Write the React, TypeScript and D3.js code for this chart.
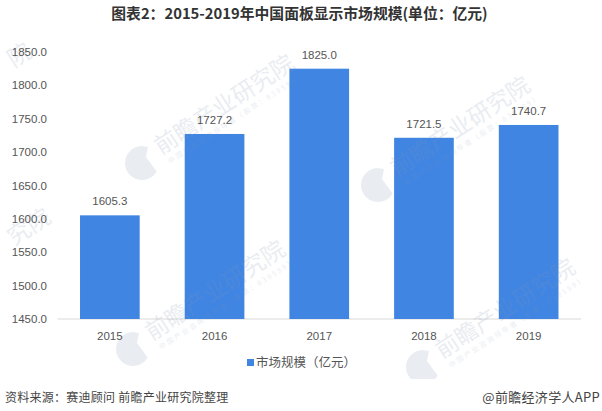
import React, { useRef, useEffect } from "react";
import * as d3 from "d3";

const years = ["2015", "2016", "2017", "2018", "2019"];
const marketSize = [1605.3, 1727.2, 1825.0, 1721.5, 1740.7];
const yTicks = [1450, 1500, 1550, 1600, 1650, 1700, 1750, 1800, 1850];

const titleText = "图表2：2015-2019年中国面板显示市场规模(单位：亿元)";
const legendText = "市场规模（亿元）";
const sourceText = "资料来源：赛迪顾问 前瞻产业研究院整理";
const brandText = "@前瞻经济学人APP";
const watermarkText = "前瞻产业研究院";
const watermarkSub = "中国产业咨询领导者（股票：839599）";

const WIDTH = 602;
const HEIGHT = 411;
const FONT = "'Noto Sans CJK SC', 'Noto Sans', sans-serif";
const LATIN = "'Liberation Sans', 'Noto Sans CJK SC', sans-serif";
const MARK_FILL = "#7f95b3";
const MARK_OPACITY = 0.17;

export default function App() {
  const svgRef = useRef<SVGSVGElement>(null);

  useEffect(() => {
    if (!svgRef.current) return;
    const svg = d3.select(svgRef.current);
    svg.selectAll("*").remove();

    const x = d3.scaleBand().domain(years).range([57.5, 581]).paddingInner(0.43).paddingOuter(0.215);
    const y = d3.scaleLinear().domain([1450, 1850]).range([319, 52]);

    svg.append("rect").attr("width", WIDTH).attr("height", HEIGHT).attr("fill", "#ffffff");

    // Title
    svg.append("text")
      .attr("x", WIDTH / 2 - 1.5)
      .attr("y", 18.5)
      .attr("text-anchor", "middle")
      .attr("font-family", "'Noto Sans CJK SC', sans-serif")
      .attr("font-weight", 700)
      .attr("font-size", 14.8)
      .attr("fill", "#333333")
      .text(titleText);

    // Baseline
    svg.append("line")
      .attr("x1", 57.5)
      .attr("x2", 581)
      .attr("y1", y(1450))
      .attr("y2", y(1450))
      .attr("stroke", "#d9d9d9")
      .attr("stroke-width", 1);

    // Bars
    svg.append("g")
      .selectAll("rect")
      .data(marketSize)
      .enter()
      .append("rect")
      .attr("x", (_, i) => x(years[i]) || 0)
      .attr("y", (d) => y(d))
      .attr("width", x.bandwidth())
      .attr("height", (d) => y(1450) - y(d))
      .attr("fill", "#4185e3");

    // Watermarks sit on top of the bars, faintly. They stop above the footer.
    svg.append("clipPath")
      .attr("id", "mark-clip")
      .append("rect")
      .attr("width", WIDTH)
      .attr("height", 379);
    const marksLayer = svg.append("g").attr("clip-path", "url(#mark-clip)");

    const fullMarks = [
      [142, 163],
      [378, 185],
      [133, 349],
      [423, 367],
    ];
    fullMarks.forEach(([mx, my]) => {
      const wm = marksLayer.append("g").attr("transform", `translate(${mx},${my})`);
      wm.append("path")
        .attr("d", "M0,-17A17,17 0 1,0 14.7,8.5L4,-6L6,-16Z")
        .attr("fill", MARK_FILL)
        .attr("opacity", MARK_OPACITY);
      wm.append("text")
        .attr("transform", "translate(19,-8) rotate(-33)")
        .attr("font-family", FONT)
        .attr("font-size", 23)
        .attr("fill", MARK_FILL)
        .attr("opacity", MARK_OPACITY)
        .text(watermarkText);
      wm.append("text")
        .attr("transform", "translate(28,1) rotate(-33)")
        .attr("font-family", FONT)
        .attr("font-size", 7)
        .attr("letter-spacing", 2)
        .attr("fill", MARK_FILL)
        .attr("opacity", MARK_OPACITY)
        .text(watermarkSub);
    });

    // Ends of the watermarks that run in from the left edge
    const edgeMarks = [
      { px: 14, py: 68, label: watermarkText.slice(-1) },
      { px: 14, py: 246, label: watermarkText.slice(-2) },
    ];
    edgeMarks.forEach((m) => {
      marksLayer.append("text")
        .attr("transform", `translate(${m.px},${m.py}) rotate(-33)`)
        .attr("font-family", FONT)
        .attr("font-size", 23)
        .attr("fill", MARK_FILL)
        .attr("opacity", MARK_OPACITY)
        .text(m.label);
    });

    // Value labels
    svg.append("g")
      .selectAll("text")
      .data(marketSize)
      .enter()
      .append("text")
      .attr("x", (_, i) => (x(years[i]) || 0) + x.bandwidth() / 2)
      .attr("y", (d) => y(d) - 10)
      .attr("text-anchor", "middle")
      .attr("font-family", LATIN)
      .attr("font-size", 11.5)
      .attr("fill", "#555555")
      .text((d) => d.toFixed(1));

    // Y tick labels
    svg.append("g")
      .selectAll("text")
      .data(yTicks)
      .enter()
      .append("text")
      .attr("x", 47)
      .attr("y", (d) => y(d) + 4)
      .attr("text-anchor", "end")
      .attr("font-family", LATIN)
      .attr("font-size", 11.5)
      .attr("fill", "#555555")
      .text((d) => d.toFixed(1));

    // X tick labels
    svg.append("g")
      .selectAll("text")
      .data(years)
      .enter()
      .append("text")
      .attr("x", (d) => (x(d) || 0) + x.bandwidth() / 2)
      .attr("y", 339.5)
      .attr("text-anchor", "middle")
      .attr("font-family", LATIN)
      .attr("font-size", 11.5)
      .attr("fill", "#555555")
      .text((d) => d);

    // Legend
    svg.append("rect")
      .attr("x", 247)
      .attr("y", 359)
      .attr("width", 7)
      .attr("height", 7)
      .attr("fill", "#4185e3");
    svg.append("text")
      .attr("x", 256)
      .attr("y", 367)
      .attr("font-family", FONT)
      .attr("font-size", 12.5)
      .attr("fill", "#555555")
      .text(legendText);

    // Footer
    svg.append("text")
      .attr("x", 5)
      .attr("y", 401.5)
      .attr("font-family", FONT)
      .attr("font-size", 12)
      .attr("letter-spacing", 0.25)
      .attr("fill", "#444444")
      .text(sourceText);
    svg.append("text")
      .attr("x", 600)
      .attr("y", 401.5)
      .attr("text-anchor", "end")
      .attr("font-family", FONT)
      .attr("font-size", 13)
      .attr("letter-spacing", 0.3)
      .attr("fill", "#444444")
      .text(brandText);
  }, []);

  return (
    <svg
      ref={svgRef}
      width={WIDTH}
      height={HEIGHT}
      viewBox={`0 0 ${WIDTH} ${HEIGHT}`}
      style={{ position: "absolute", left: 0, top: 0 }}
    />
  );
}
